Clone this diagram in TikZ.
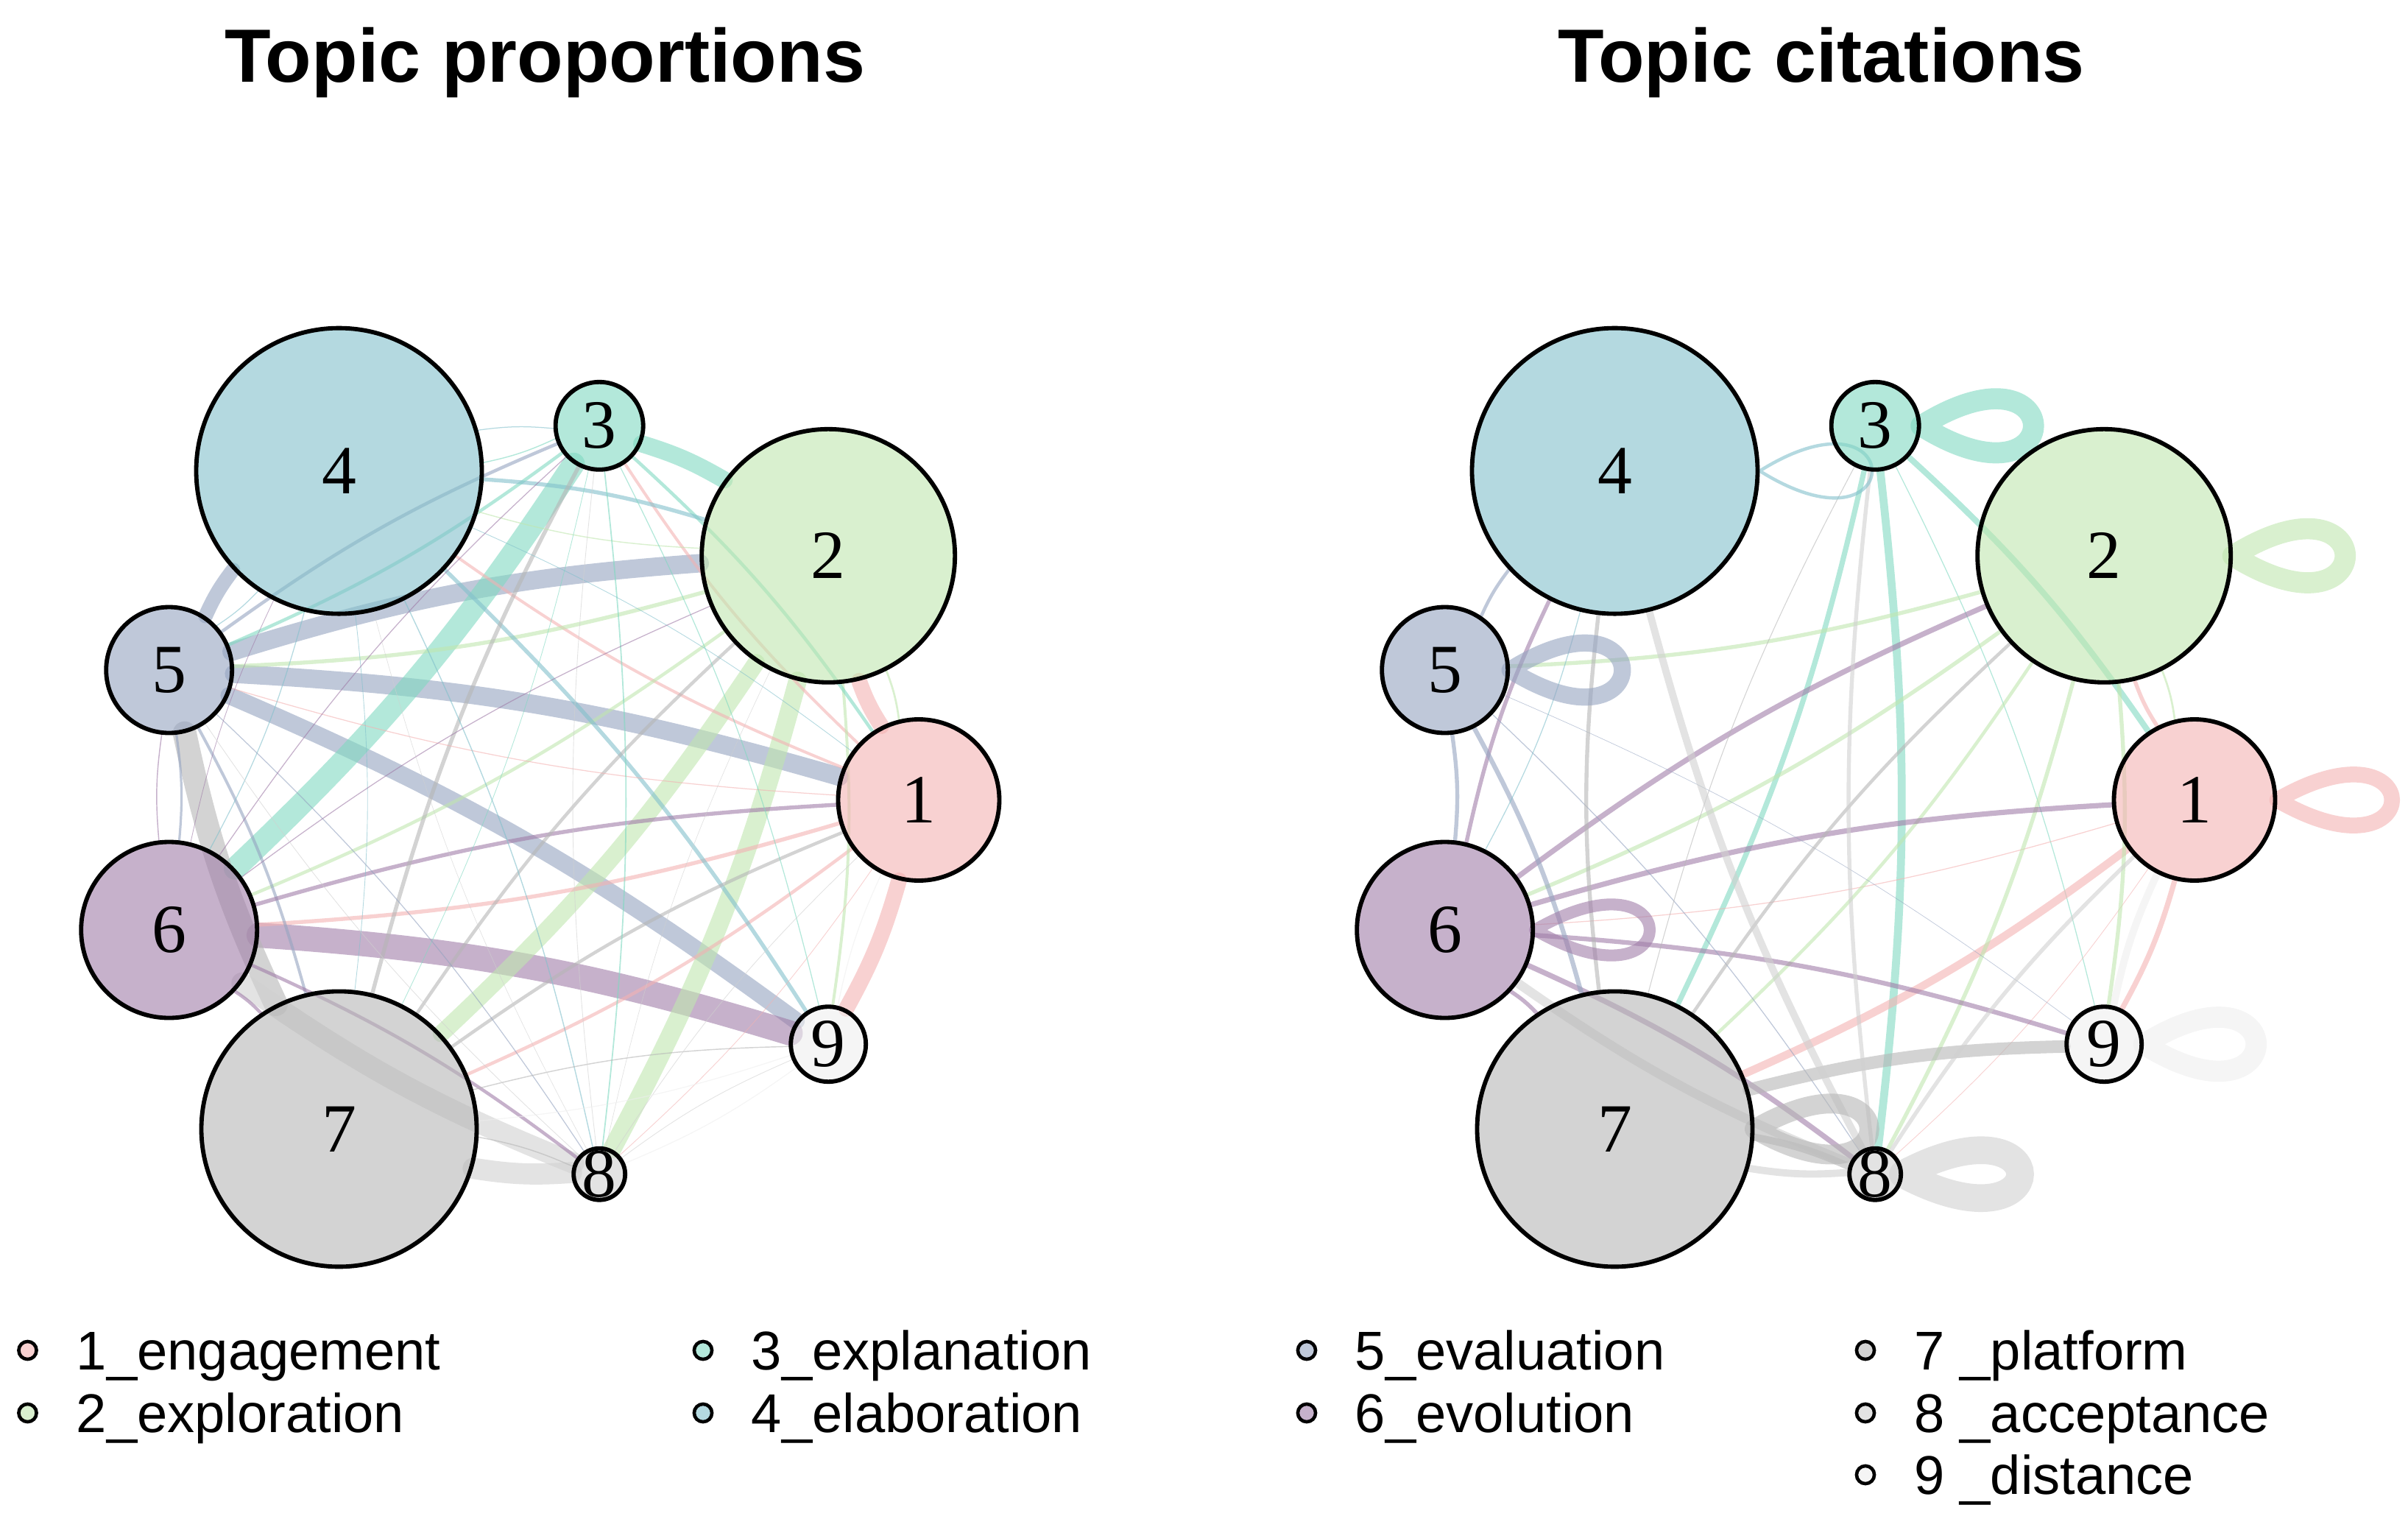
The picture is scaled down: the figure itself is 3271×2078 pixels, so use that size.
\documentclass[tikz,border=0pt]{standalone}
\usepackage{fontspec}
\setmainfont{Liberation Serif}
\setsansfont{Liberation Sans}
\usetikzlibrary{backgrounds}
\definecolor{c1}{RGB}{243,178,178}
\definecolor{c2}{RGB}{192,230,175}
\definecolor{c3}{RGB}{128,217,193}
\definecolor{c4}{RGB}{130,192,203}
\definecolor{c5}{RGB}{148,163,192}
\definecolor{c6}{RGB}{160,125,168}
\definecolor{c7}{RGB}{182,182,182}
\definecolor{c8}{RGB}{208,208,208}
\definecolor{c9}{RGB}{238,238,238}
\newcommand\tpE[4]{\draw[ed=c#2,lw=#4] (#1#2) to[bend left=6.5] (#1#3);}
\newcommand\tpL[4]{\draw[ed=c#2,lw=#3] (#1#2.east) .. controls +(#4:240) and +(-#4:240) .. (#1#2.east);}
\begin{document}
\begin{tikzpicture}[x=0.24pt,y=-0.24pt,
  nd/.style={circle, draw=black, line width=1.4pt, fill=#1, fill opacity=0.6, draw opacity=1, text opacity=1, inner sep=0pt, font=\fontsize{22.5}{22.5}\selectfont},
  rr/.style={minimum size=#1*0.48pt},
  ed/.style={draw=#1, draw opacity=0.6, line cap=round},
  lw/.style={line width=#1*0.43pt},
  ttl/.style={font=\sffamily\bfseries\fontsize{24.6}{24.6}\selectfont, inner sep=0pt, anchor=base},
  lgm/.style={circle, draw=black, line width=1.1pt, fill=#1, fill opacity=0.6, draw opacity=1, inner sep=0pt, minimum size=5.8pt},
  lgt/.style={font=\sffamily\fontsize{17.8}{17.8}\selectfont, inner sep=0pt, anchor=base west}]
\useasboundingbox (0,0) rectangle (3271,2078);
% titles
\node[ttl] (tl) at (740.5,111) {Topic proportions};
\node[ttl] (tr) at (2474,111) {Topic citations};
% left nodes
\node[nd=c1, rr=109.5] (l1) at (1248,1086.5) {\makebox[0pt]{1}};
\node[nd=c2, rr=172] (l2) at (1125.2,754.8) {\makebox[0pt]{2}};
\node[nd=c3, rr=59.5] (l3) at (814.2,578.3) {\makebox[0pt]{3}};
\node[nd=c4, rr=194] (l4) at (460.5,639.6) {\makebox[0pt]{4}};
\node[nd=c5, rr=85.5] (l5) at (229.7,910) {\makebox[0pt]{5}};
\node[nd=c6, rr=119.5] (l6) at (229.7,1263) {\makebox[0pt]{6}};
\node[nd=c7, rr=187] (l7) at (460.5,1533.4) {\makebox[0pt]{7}};
\node[nd=c8, rr=35] (l8) at (814.2,1594.7) {\makebox[0pt]{8}};
\node[nd=c9, rr=51] (l9) at (1125.2,1418.2) {\makebox[0pt]{9}};
% right nodes
\node[nd=c1, rr=109.5] (r1) at (2981,1086.5) {\makebox[0pt]{1}};
\node[nd=c2, rr=172] (r2) at (2858.2,754.8) {\makebox[0pt]{2}};
\node[nd=c3, rr=59.5] (r3) at (2547.2,578.3) {\makebox[0pt]{3}};
\node[nd=c4, rr=194] (r4) at (2193.5,639.6) {\makebox[0pt]{4}};
\node[nd=c5, rr=85.5] (r5) at (1962.7,910) {\makebox[0pt]{5}};
\node[nd=c6, rr=119.5] (r6) at (1962.7,1263) {\makebox[0pt]{6}};
\node[nd=c7, rr=187] (r7) at (2193.5,1533.4) {\makebox[0pt]{7}};
\node[nd=c8, rr=35] (r8) at (2547.2,1594.7) {\makebox[0pt]{8}};
\node[nd=c9, rr=51] (r9) at (2858.2,1418.2) {\makebox[0pt]{9}};
\begin{scope}[on background layer]
% left panel edges
\tpE{l}{5}{2}{14}
\tpE{l}{5}{1}{14}
\tpE{l}{5}{9}{13}
\tpE{l}{5}{4}{11}
\tpE{l}{3}{6}{17}
\tpE{l}{3}{2}{13}
\tpE{l}{6}{9}{19}
\tpE{l}{7}{5}{18}
\tpE{l}{8}{6}{16}
\tpE{l}{8}{7}{16}
\tpE{l}{2}{8}{14}
\tpE{l}{2}{7}{13}
\tpE{l}{1}{9}{12}
\tpE{l}{1}{2}{12}
\tpE{l}{1}{6}{3}
\tpE{l}{1}{7}{2.5}
\tpE{l}{1}{3}{2.2}
\tpE{l}{1}{4}{2.2}
\tpE{l}{2}{5}{3}
\tpE{l}{2}{6}{2.5}
\tpE{l}{2}{9}{2.2}
\tpE{l}{3}{1}{2.5}
\tpE{l}{3}{5}{2.5}
\tpE{l}{4}{9}{3}
\tpE{l}{4}{2}{3}
\tpE{l}{5}{3}{2.5}
\tpE{l}{5}{7}{2.2}
\tpE{l}{5}{6}{1.8}
\tpE{l}{6}{1}{3}
\tpE{l}{6}{8}{2.5}
\tpE{l}{6}{7}{2.5}
\tpE{l}{7}{3}{3}
\tpE{l}{7}{1}{2.5}
\tpE{l}{7}{2}{2.5}
\tpE{l}{1}{5}{0.7}
\tpE{l}{1}{8}{0.5}
\tpE{l}{2}{1}{1.5}
\tpE{l}{2}{4}{0.8}
\tpE{l}{3}{4}{0.8}
\tpE{l}{3}{8}{1}
\tpE{l}{3}{9}{0.7}
\tpE{l}{3}{7}{0.5}
\tpE{l}{4}{5}{0.7}
\tpE{l}{4}{3}{0.7}
\tpE{l}{4}{8}{0.8}
\tpE{l}{4}{6}{0.7}
\tpE{l}{4}{1}{0.5}
\tpE{l}{4}{7}{0.5}
\tpE{l}{5}{8}{0.7}
\tpE{l}{6}{5}{0.8}
\tpE{l}{6}{2}{0.7}
\tpE{l}{6}{3}{0.7}
\tpE{l}{6}{4}{0.5}
\tpE{l}{7}{8}{0.8}
\tpE{l}{7}{9}{0.8}
\tpE{l}{8}{1}{0.5}
\tpE{l}{8}{2}{0.4}
\tpE{l}{8}{3}{0.5}
\tpE{l}{8}{9}{0.5}
\tpE{l}{8}{5}{0.5}
\tpE{l}{8}{4}{0.4}
\tpE{l}{9}{1}{0.7}
\tpE{l}{9}{7}{0.7}
\tpE{l}{9}{8}{0.7}
% right panel edges
\tpE{r}{3}{1}{4.5}
\tpE{r}{3}{8}{6}
\tpE{r}{3}{7}{4}
\tpE{r}{3}{9}{0.7}
\tpE{r}{1}{2}{3}
\tpE{r}{1}{9}{4}
\tpE{r}{1}{7}{6}
\tpE{r}{1}{6}{0.7}
\tpE{r}{1}{8}{0.5}
\tpE{r}{2}{1}{1.5}
\tpE{r}{2}{5}{3}
\tpE{r}{2}{6}{3}
\tpE{r}{2}{7}{2.5}
\tpE{r}{2}{8}{3}
\tpE{r}{2}{9}{3}
\tpE{r}{6}{1}{4}
\tpE{r}{6}{2}{4}
\tpE{r}{6}{9}{3.5}
\tpE{r}{6}{8}{4}
\tpE{r}{6}{7}{3}
\tpE{r}{6}{4}{3}
\tpE{r}{5}{4}{2.5}
\tpE{r}{5}{6}{3}
\tpE{r}{5}{7}{3.5}
\tpE{r}{5}{8}{0.7}
\tpE{r}{5}{9}{0.4}
\tpE{r}{4}{6}{0.7}
\tpE{r}{7}{4}{3}
\tpE{r}{7}{9}{9.5}
\tpE{r}{7}{8}{5.5}
\tpE{r}{7}{2}{2.5}
\tpE{r}{7}{3}{0.6}
\tpE{r}{8}{4}{5.5}
\tpE{r}{8}{3}{3}
\tpE{r}{8}{6}{7}
\tpE{r}{8}{7}{5.5}
\tpE{r}{8}{1}{3}
\tpE{r}{9}{1}{5.5}
% self loops
\tpL{r}{1}{12}{30}
\tpL{r}{2}{16}{32}
\tpL{r}{3}{16}{32}
\tpL{r}{4}{2.5}{32}
\tpL{r}{5}{13}{32}
\tpL{r}{6}{9}{30}
\tpL{r}{7}{15}{30}
\tpL{r}{8}{21}{28}
\tpL{r}{9}{16}{32}
\end{scope}
% legend
\node[lgm=c1] (m1) at (37.5,1834) {};
\node[lgt] (g1) at (103,1860) {1\_engagement};
\node[lgm=c2] (m2) at (37.5,1919) {};
\node[lgt] (g2) at (103,1945) {2\_exploration};
\node[lgm=c3] (m3) at (955,1834) {};
\node[lgt] (g3) at (1020,1860) {3\_explanation};
\node[lgm=c4] (m4) at (955,1919) {};
\node[lgt] (g4) at (1020,1945) {4\_elaboration};
\node[lgm=c5] (m5) at (1775,1834) {};
\node[lgt] (g5) at (1840,1860) {5\_evaluation};
\node[lgm=c6] (m6) at (1775,1919) {};
\node[lgt] (g6) at (1840,1945) {6\_evolution};
\node[lgm=c7] (m7) at (2534,1834) {};
\node[lgt] (g7) at (2600,1860) {7 \_platform};
\node[lgm=c8] (m8) at (2534,1919) {};
\node[lgt] (g8) at (2600,1945) {8 \_acceptance};
\node[lgm=c9] (m9) at (2534,2003) {};
\node[lgt] (g9) at (2600,2029) {9 \_distance};
\end{tikzpicture}
\end{document}
